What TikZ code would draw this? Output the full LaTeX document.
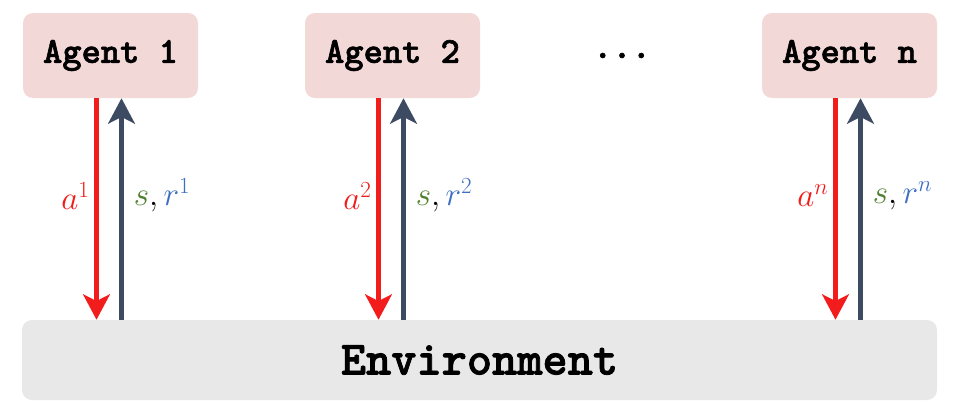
\documentclass[tikz,border=0pt]{standalone}
\usepackage{fontspec}
\newfontfamily\codefont{lmmonolt10-bold}[Extension=.otf, FakeBold=1.6]
\usetikzlibrary{arrows.meta}
\definecolor{agentfill}{HTML}{F3D8D8}
\definecolor{envfill}{HTML}{E8E8E8}
\definecolor{actred}{HTML}{F21C1C}
\definecolor{obsdark}{HTML}{3C4A62}
\definecolor{stategreen}{HTML}{4F7F2F}
\definecolor{rewardblue}{HTML}{3E6EC2}
\tikzset{
  agentbox/.style={fill=agentfill, rounded corners=7.5pt, minimum width=131.25pt,
    minimum height=63.75pt, font=\codefont\fontsize{27.5}{30}\selectfont},
  envbox/.style={fill=envfill, rounded corners=7.5pt, minimum width=686.25pt,
    minimum height=60pt, font=\codefont\fontsize{36}{40}\selectfont},
  actarrow/.style={draw=actred, line width=3.75pt,
    -{Stealth[length=19pt, width=20pt, inset=5pt]}},
  obsarrow/.style={draw=obsdark, line width=3.75pt,
    -{Stealth[length=19pt, width=20pt, inset=5pt]}},
  lbl/.style={font=\fontsize{27}{30}\selectfont, inner sep=0pt}
}
\begin{document}
\begin{tikzpicture}[x=0.75pt, y=-0.75pt]
  \useasboundingbox (0,0) rectangle (957,411);
  % agents and environment
  \node[agentbox] (a1) at (110.5,55.5) {Agent 1};
  \node[agentbox] (a2) at (392.5,55.5) {Agent 2};
  \node[agentbox] (an) at (849.5,55.5) {Agent n};
  \node[font=\codefont\fontsize{27.5}{30}\selectfont] (dots) at (622,55.5) {...};
  \node[envbox] (env) at (479.5,360) {Environment};
  % action and observation arrows
  \foreach \ag/\k in {a1/1, a2/2, an/n} {
    \coordinate (d\k) at ([xshift=-10.5pt]\ag.south);
    \coordinate (u\k) at ([xshift=8.25pt]\ag.south);
    \draw[actarrow] (d\k) -- (d\k |- env.north);
    \draw[obsarrow] (u\k |- env.north) -- (u\k);
    \node[lbl, anchor=east] (la\k) at ([xshift=-5pt, yshift=-73pt]d\k)
      {$\color{actred}a^{\k}$};
    \node[lbl, anchor=west] (ls\k) at ([xshift=9pt, yshift=-73pt]u\k)
      {$\color{stategreen}s\color{black},\color{rewardblue}r^{\k}$};
  }
\end{tikzpicture}
\end{document}
